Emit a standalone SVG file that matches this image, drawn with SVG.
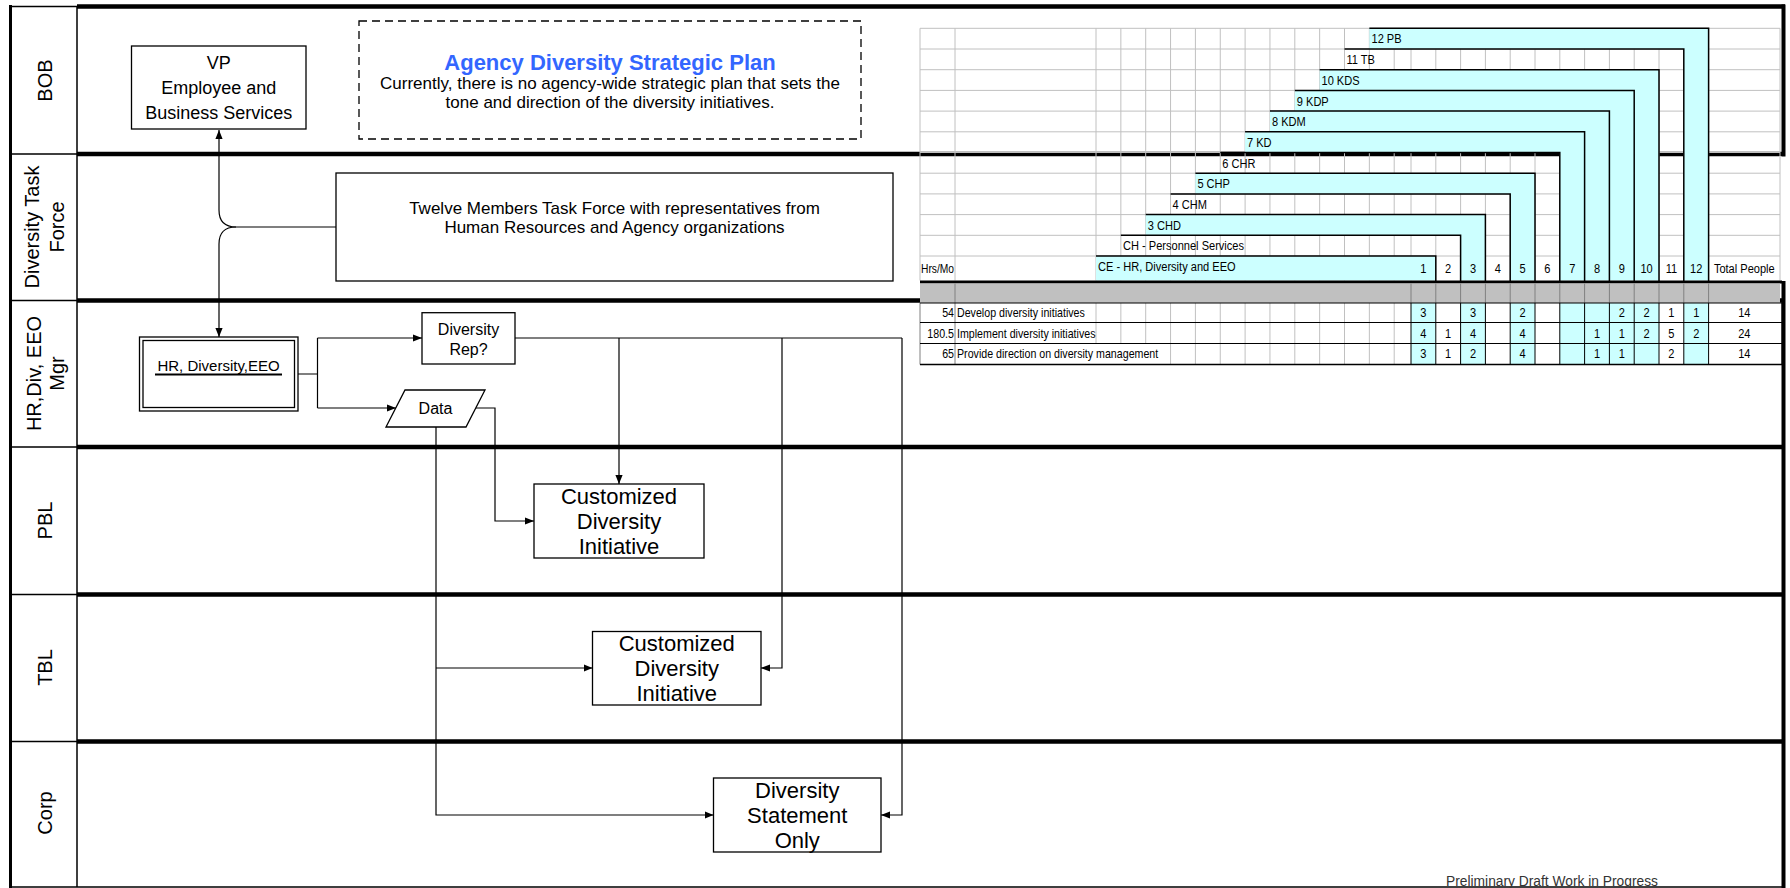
<svg xmlns="http://www.w3.org/2000/svg" width="1790" height="888" viewBox="0 0 1790 888">
<defs>
<marker id="arrow" viewBox="0 0 10 8" refX="10" refY="4" markerWidth="9" markerHeight="7.5" orient="auto" markerUnits="userSpaceOnUse"><path d="M0,0 L10,4 L0,8 Z" fill="#000"/></marker>
<style>
.thick{stroke:#000;stroke-width:4.5;fill:none}
.thin{stroke:#000;stroke-width:1.5;fill:none}
.lbl{font-family:"Liberation Sans",Arial,sans-serif;font-size:20px;fill:#000;text-anchor:middle}
.box{fill:#fff;stroke:#000;stroke-width:1.3}
.txt{font-family:"Liberation Sans",Arial,sans-serif;fill:#000;text-anchor:middle}
.conn{fill:none;stroke:#000;stroke-width:1.2}
.arr{marker-end:url(#arrow)}
.grid{stroke:#c0c0c0;stroke-width:1;fill:none}
.cy{fill:#ccffff}
.lb{stroke:#000;stroke-width:1.5;fill:none}
.tn{font-family:"Liberation Sans",Arial,sans-serif;font-size:13.5px;fill:#000}
.tc{text-anchor:middle}
.tr{text-anchor:end}
</style>
</defs>
<rect width="1790" height="888" fill="#fff"/>

<!-- swimlane frame -->
<g id="lanes">
  <path class="thick" d="M77,6.5H1785 M77,154H1783 M77,300.5H1783 M77,447H1783 M77,594.5H1783 M77,741.5H1783"/>
  <path class="thin" d="M10,6.5H77 M10,154H77 M10,300.5H77 M10,447H77 M10,594.5H77 M10,741.5H77 M10,887H1783 M77,6.5V887"/>
  <path stroke="#000" stroke-width="3" fill="none" d="M10.5,5V888"/>
  <path stroke="#000" stroke-width="4" fill="none" d="M1783.5,4.5V888"/>
  <text class="lbl" transform="translate(52,80.5) rotate(-90)">BOB</text>
  <text class="lbl" transform="translate(38.5,227) rotate(-90)">Diversity Task</text>
  <text class="lbl" transform="translate(64,227) rotate(-90)">Force</text>
  <text class="lbl" transform="translate(40.5,373.5) rotate(-90)">HR,Div, EEO</text>
  <text class="lbl" transform="translate(64,373.5) rotate(-90)">Mgr</text>
  <text class="lbl" transform="translate(52,520.5) rotate(-90)">PBL</text>
  <text class="lbl" transform="translate(52,667.5) rotate(-90)">TBL</text>
  <text class="lbl" transform="translate(52,813) rotate(-90)">Corp</text>
</g>

<!-- staffing matrix -->
<g id="matrix">
  <rect x="1779" y="156.5" width="8" height="124.5" fill="#fff"/>
  <path class="grid" d="M920,28.3H1780 M920,49H1780 M920,69.7H1780 M920,90.4H1780 M920,111.1H1780 M920,131.8H1780 M920,152.5H1780 M920,173.2H1780 M920,193.9H1780 M920,214.6H1780 M920,235.3H1780 M920,256H1780
    M920,28.3V280.5 M955,28.3V280.5 M1096,28.3V280.5 M1120.85,28.3V280.5 M1145.7,28.3V280.5 M1170.55,28.3V280.5 M1195.4,28.3V280.5 M1220.25,28.3V280.5 M1245.1,28.3V280.5 M1269.95,28.3V280.5 M1294.8,28.3V280.5 M1319.65,28.3V280.5 M1344.5,28.3V280.5 M1369.35,28.3V280.5 M1394.2,28.3V280.5 M1411,28.3V280.5
    M1435.8,28.3V280.5 M1460.6,28.3V280.5 M1485.4,28.3V280.5 M1510.2,28.3V280.5 M1535,28.3V280.5 M1559.8,28.3V280.5 M1584.6,28.3V280.5 M1609.4,28.3V280.5 M1634.2,28.3V280.5 M1659,28.3V280.5 M1683.8,28.3V280.5 M1708.6,28.3V280.5 M1780,28.3V280.5"/>
  <!-- shaded assignment bands -->
  <path class="cy" d="M1369.35,28.3H1708.6V280.5H1683.8V49H1369.35Z"/>
  <path class="cy" d="M1319.65,69.7H1659V280.5H1634.2V90.4H1319.65Z"/>
  <path class="cy" d="M1294.8,90.4H1634.2V280.5H1609.4V111.1H1294.8Z"/>
  <path class="cy" d="M1269.95,111.1H1609.4V280.5H1584.6V131.8H1269.95Z"/>
  <path class="cy" d="M1245.1,131.8H1584.6V280.5H1559.8V152.5H1245.1Z"/>
  <path class="cy" d="M1195.4,173.2H1535V280.5H1510.2V193.9H1195.4Z"/>
  <path class="cy" d="M1145.7,214.6H1485.4V280.5H1460.6V235.3H1145.7Z"/>
  <path class="cy" d="M1096,256H1435.8V280.5H1096Z"/>
  <path class="lb" d="M1369.35,28.3H1708.6V282 M1344.5,49H1683.8V282 M1319.65,69.7H1659V282 M1294.8,90.4H1634.2V282 M1269.95,111.1H1609.4V282 M1245.1,131.8H1584.6V282 M1220.25,152.5H1559.8V282 M1195.4,173.2H1535V282 M1170.55,193.9H1510.2V282 M1145.7,214.6H1485.4V282 M1120.85,235.3H1460.6V282 M1096,256H1435.8V282"/>
  <path stroke="#000" stroke-width="3" d="M920,282H1782"/>
  <rect x="920" y="283.5" width="860" height="19.5" fill="#c0c0c0"/>
  <path stroke="#808080" stroke-width="1" d="M955,283.5V303 M1411,283.5V303 M1435.8,283.5V303 M1460.6,283.5V303 M1485.4,283.5V303 M1510.2,283.5V303 M1535,283.5V303 M1559.8,283.5V303 M1584.6,283.5V303 M1609.4,283.5V303 M1634.2,283.5V303 M1659,283.5V303 M1683.8,283.5V303 M1708.6,283.5V303"/>
  <!-- task rows -->
  <path class="cy" d="M1411,303h24.8v61.5h-24.8Z M1460.6,303h24.8v61.5h-24.8Z M1510.2,303h24.8v61.5h-24.8Z M1559.8,303h99.2v61.5h-99.2Z M1683.8,303h24.8v61.5h-24.8Z"/>
  <path class="grid" d="M1096,303V343.5 M1120.85,303V343.5 M1145.7,303V343.5 M1170.55,303V364.5 M1195.4,303V364.5 M1220.25,303V364.5 M1245.1,303V364.5 M1269.95,303V364.5 M1294.8,303V364.5 M1319.65,303V364.5 M1344.5,303V364.5 M1369.35,303V364.5 M1394.2,303V364.5"/>
  <path stroke="#808080" stroke-width="1" fill="none" d="M920,303V364.5 M955,303V364.5"/>
  <path stroke="#000" stroke-width="1" fill="none" d="M920,303H1782 M920,322.5H1782 M920,343.5H1782 M1411,303V364.5 M1435.8,303V364.5 M1460.6,303V364.5 M1485.4,303V364.5 M1510.2,303V364.5 M1535,303V364.5 M1559.8,303V364.5 M1584.6,303V364.5 M1609.4,303V364.5 M1634.2,303V364.5 M1659,303V364.5 M1683.8,303V364.5 M1708.6,303V364.5 M1782,303V364.5"/>
  <path stroke="#000" stroke-width="1.5" d="M920,364.5H1783"/>

  <!-- condensed cell text: x coordinates are divided by the 0.82 horizontal squeeze -->
  <g class="tn" transform="scale(0.82,1)">
    <text x="1672.56" y="43.5">12 PB</text>
    <text x="1642.07" y="64.2">11 TB</text>
    <text x="1611.59" y="84.9">10 KDS</text>
    <text x="1581.46" y="105.6">9 KDP</text>
    <text x="1551.22" y="126.3">8 KDM</text>
    <text x="1520.73" y="147">7 KD</text>
    <text x="1490.61" y="167.7">6 CHR</text>
    <text x="1460.24" y="188.4">5 CHP</text>
    <text x="1430" y="209.1">4 CHM</text>
    <text x="1399.63" y="229.8">3 CHD</text>
    <text x="1369.51" y="250.5">CH - Personnel Services</text>
    <text x="1339.02" y="271">CE - HR, Diversity and EEO</text>
    <text x="1123.17" y="273" font-size="12.5">Hrs/Mo</text>
    <g class="tc">
      <text x="1735.85" y="273">1</text><text x="1766.1" y="273">2</text><text x="1796.34" y="273">3</text><text x="1826.59" y="273">4</text><text x="1856.83" y="273">5</text><text x="1887.07" y="273">6</text><text x="1917.32" y="273">7</text><text x="1947.56" y="273">8</text><text x="1977.8" y="273">9</text><text x="2008.05" y="273">10</text><text x="2038.29" y="273">11</text><text x="2068.54" y="273">12</text>
      <text x="2127.2" y="273">Total People</text>
    </g>
    <g font-size="13">
      <text class="tr" x="1163.41" y="317.5">54</text>
      <text x="1167.07" y="317.5">Develop diversity initiatives</text>
      <text class="tr" x="1163.41" y="338">180.5</text>
      <text x="1167.07" y="338">Implement diversity initiatives</text>
      <text class="tr" x="1163.41" y="358.5">65</text>
      <text x="1167.07" y="358.5">Provide direction on diversity management</text>
    </g>
    <g class="tc">
      <text x="1735.85" y="317.5">3</text><text x="1796.34" y="317.5">3</text><text x="1856.83" y="317.5">2</text><text x="1977.8" y="317.5">2</text><text x="2008.05" y="317.5">2</text><text x="2038.29" y="317.5">1</text><text x="2068.54" y="317.5">1</text><text x="2127.2" y="317.5">14</text>
      <text x="1735.85" y="338">4</text><text x="1766.1" y="338">1</text><text x="1796.34" y="338">4</text><text x="1856.83" y="338">4</text><text x="1947.56" y="338">1</text><text x="1977.8" y="338">1</text><text x="2008.05" y="338">2</text><text x="2038.29" y="338">5</text><text x="2068.54" y="338">2</text><text x="2127.2" y="338">24</text>
      <text x="1735.85" y="358.5">3</text><text x="1766.1" y="358.5">1</text><text x="1796.34" y="358.5">2</text><text x="1856.83" y="358.5">4</text><text x="1947.56" y="358.5">1</text><text x="1977.8" y="358.5">1</text><text x="2038.29" y="358.5">2</text><text x="2127.2" y="358.5">14</text>
    </g>
  </g>
</g>

<!-- connectors -->
<g id="connectors">
  <path class="conn arr" d="M336,227H236Q219,227 219,210V130"/>
  <path class="conn arr" d="M236,227Q219,227 219,244V337"/>
  <path class="conn" d="M298,374H317.5 M317.5,338V408"/>
  <path class="conn arr" d="M317.5,338H422"/>
  <path class="conn arr" d="M317.5,408H396"/>
  <path class="conn" d="M515,338H902"/>
  <path class="conn arr" d="M619,338V484"/>
  <path class="conn arr" d="M782,338V668H761"/>
  <path class="conn arr" d="M902,338V815H881"/>
  <path class="conn arr" d="M476,408H495V521H534"/>
  <path class="conn arr" d="M436,427V815H713.5"/>
  <path class="conn arr" d="M436,668H592.5"/>
</g>

<g id="vp">
  <rect class="box" x="131.5" y="46" width="174.5" height="83"/>
  <text class="txt" font-size="18" x="218.75" y="68.5">VP</text>
  <text class="txt" font-size="18" x="218.75" y="93.5">Employee and</text>
  <text class="txt" font-size="18" x="218.75" y="118.5">Business Services</text>
</g>

<g id="strategic-plan">
  <rect x="359" y="21" width="502" height="118" fill="#fff" stroke="#000" stroke-width="1.3" stroke-dasharray="8,5"/>
  <text class="txt" font-size="22" font-weight="bold" style="fill:#3366ff" x="610" y="70">Agency Diversity Strategic Plan</text>
  <text class="txt" font-size="17" x="610" y="89">Currently, there is no agency-wide strategic plan that sets the</text>
  <text class="txt" font-size="17" x="610" y="108">tone and direction of the diversity initiatives.</text>
</g>

<g id="task-force">
  <rect class="box" x="336" y="173" width="557" height="108"/>
  <text class="txt" font-size="17" x="614.5" y="214">Twelve Members Task Force with representatives from</text>
  <text class="txt" font-size="17" x="614.5" y="233">Human Resources and Agency organizations</text>
</g>

<g id="hr-div-eeo">
  <rect class="box" x="139.5" y="337" width="158.5" height="74"/>
  <rect fill="none" stroke="#000" stroke-width="1.3" x="143" y="340.5" width="151.5" height="67"/>
  <text class="txt" font-size="15" x="218.5" y="370.5">HR, Diversity,EEO</text>
  <path stroke="#000" stroke-width="1.8" d="M155,374.5H282"/>
</g>

<g id="diversity-rep">
  <rect class="box" x="422" y="312.7" width="93" height="51.3"/>
  <text class="txt" font-size="16" x="468.5" y="335">Diversity</text>
  <text class="txt" font-size="16" x="468.5" y="355">Rep?</text>
</g>

<g id="data">
  <path class="box" d="M405,390H485L466,427H386Z"/>
  <text class="txt" font-size="16" x="435.5" y="413.5">Data</text>
</g>

<g id="pbl-initiative">
  <rect class="box" x="534" y="484" width="170" height="74"/>
  <text class="txt" font-size="22" x="619" y="503.5">Customized</text>
  <text class="txt" font-size="22" x="619" y="528.5">Diversity</text>
  <text class="txt" font-size="22" x="619" y="553.5">Initiative</text>
</g>

<g id="tbl-initiative">
  <rect class="box" x="592.5" y="631.5" width="168.5" height="73.5"/>
  <text class="txt" font-size="22" x="676.75" y="650.5">Customized</text>
  <text class="txt" font-size="22" x="676.75" y="675.5">Diversity</text>
  <text class="txt" font-size="22" x="676.75" y="700.5">Initiative</text>
</g>

<g id="corp-statement">
  <rect class="box" x="713.5" y="778" width="167.5" height="74"/>
  <text class="txt" font-size="22" x="797.25" y="797.5">Diversity</text>
  <text class="txt" font-size="22" x="797.25" y="822.5">Statement</text>
  <text class="txt" font-size="22" x="797.25" y="848">Only</text>
</g>

<text x="1446" y="886" font-family="'Liberation Sans',Arial,sans-serif" font-size="15.5" fill="#333" textLength="212" lengthAdjust="spacingAndGlyphs">Preliminary Draft Work in Progress</text>
</svg>
